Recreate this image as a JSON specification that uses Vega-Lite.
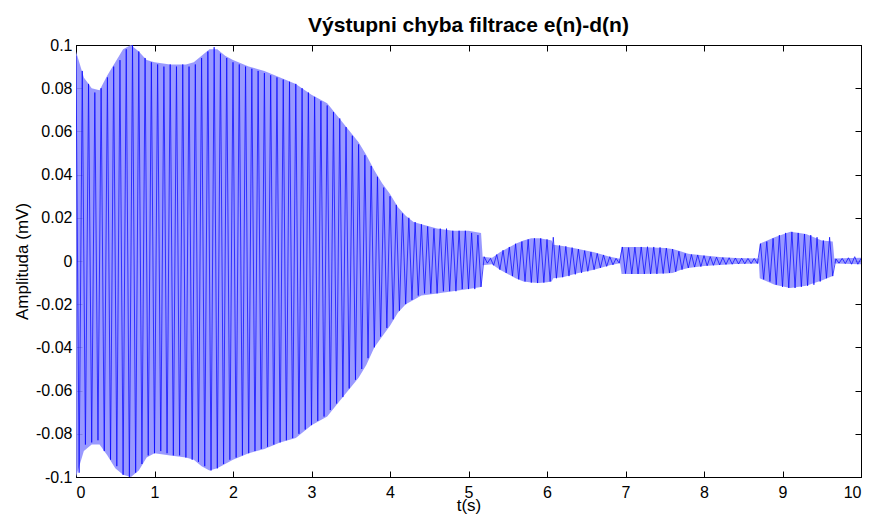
{
 "$schema": "https://vega.github.io/schema/vega-lite/v6.json",
 "width": 785, "height": 432,
 "autosize": {"type": "none"},
 "padding": {"left": 76, "top": 45, "right": 13, "bottom": 37},
 "background": "#ffffff",
 "title": {"text": "Výstupni chyba filtrace e(n)-d(n)", "fontSize": 21, "fontWeight": "bold", "font": "Liberation Sans", "color": "#000000", "offset": 1, "anchor": "middle"},
 "config": {
  "view": {"stroke": "#000000", "strokeWidth": 1},
  "axis": {"domainColor": "#000000", "tickColor": "#000000", "labelColor": "#000000", "titleColor": "#000000", "labelFont": "Liberation Sans", "titleFont": "Liberation Sans", "labelFontSize": 16, "titleFontSize": 17, "titleFontWeight": "normal", "grid": false, "tickSize": -6, "domainWidth": 1, "tickWidth": 1}
 },
 "datasets": {
  "sig": [
{"t":0.00,"v":0.095},{"t":0.04,"v":-0.098},{"t":0.08,"v":0.088},{"t":0.12,"v":-0.085},{"t":0.16,"v":0.082},{"t":0.20,"v":-0.084},{"t":0.24,"v":0.078},{"t":0.28,"v":-0.083},{"t":0.32,"v":0.080},{"t":0.36,"v":-0.088},
{"t":0.40,"v":0.085},{"t":0.44,"v":-0.092},{"t":0.48,"v":0.090},{"t":0.52,"v":-0.095},{"t":0.56,"v":0.093},{"t":0.60,"v":-0.099},{"t":0.64,"v":0.098},{"t":0.68,"v":-0.100},{"t":0.72,"v":0.100},{"t":0.76,"v":-0.098},
{"t":0.80,"v":0.097},{"t":0.84,"v":-0.094},{"t":0.88,"v":0.094},{"t":0.92,"v":-0.090},{"t":0.96,"v":0.092},{"t":1.00,"v":-0.089},{"t":1.04,"v":0.091},{"t":1.08,"v":-0.088},{"t":1.12,"v":0.090},{"t":1.16,"v":-0.089},
{"t":1.20,"v":0.091},{"t":1.24,"v":-0.090},{"t":1.28,"v":0.090},{"t":1.32,"v":-0.090},{"t":1.36,"v":0.091},{"t":1.40,"v":-0.091},{"t":1.44,"v":0.090},{"t":1.48,"v":-0.092},{"t":1.52,"v":0.091},{"t":1.56,"v":-0.093},
{"t":1.60,"v":0.094},{"t":1.64,"v":-0.095},{"t":1.68,"v":0.097},{"t":1.72,"v":-0.097},{"t":1.76,"v":0.099},{"t":1.80,"v":-0.096},{"t":1.84,"v":0.096},{"t":1.88,"v":-0.094},{"t":1.92,"v":0.094},{"t":1.96,"v":-0.092},
{"t":2.00,"v":0.092},{"t":2.04,"v":-0.091},{"t":2.08,"v":0.091},{"t":2.12,"v":-0.090},{"t":2.16,"v":0.090},{"t":2.20,"v":-0.089},{"t":2.24,"v":0.089},{"t":2.28,"v":-0.088},{"t":2.32,"v":0.088},{"t":2.36,"v":-0.087},
{"t":2.40,"v":0.087},{"t":2.44,"v":-0.086},{"t":2.48,"v":0.086},{"t":2.52,"v":-0.085},{"t":2.56,"v":0.085},{"t":2.60,"v":-0.084},{"t":2.64,"v":0.084},{"t":2.68,"v":-0.083},{"t":2.72,"v":0.083},{"t":2.76,"v":-0.082},
{"t":2.80,"v":0.082},{"t":2.84,"v":-0.080},{"t":2.88,"v":0.080},{"t":2.92,"v":-0.078},{"t":2.96,"v":0.078},{"t":3.00,"v":-0.076},{"t":3.04,"v":0.076},{"t":3.08,"v":-0.074},{"t":3.12,"v":0.074},{"t":3.16,"v":-0.072},
{"t":3.20,"v":0.072},{"t":3.24,"v":-0.069},{"t":3.28,"v":0.069},{"t":3.32,"v":-0.066},{"t":3.36,"v":0.066},{"t":3.40,"v":-0.063},{"t":3.44,"v":0.062},{"t":3.48,"v":-0.059},{"t":3.52,"v":0.058},{"t":3.56,"v":-0.055},
{"t":3.60,"v":0.054},{"t":3.64,"v":-0.050},{"t":3.68,"v":0.049},{"t":3.72,"v":-0.045},{"t":3.76,"v":0.044},{"t":3.80,"v":-0.040},{"t":3.84,"v":0.039},{"t":3.88,"v":-0.035},{"t":3.92,"v":0.034},{"t":3.96,"v":-0.031},
{"t":4.00,"v":0.030},{"t":4.04,"v":-0.027},{"t":4.08,"v":0.026},{"t":4.12,"v":-0.023},{"t":4.16,"v":0.022},{"t":4.20,"v":-0.020},{"t":4.24,"v":0.020},{"t":4.28,"v":-0.018},{"t":4.32,"v":0.018},{"t":4.36,"v":-0.016},
{"t":4.40,"v":0.017},{"t":4.44,"v":-0.015},{"t":4.48,"v":0.016},{"t":4.52,"v":-0.015},{"t":4.56,"v":0.015},{"t":4.60,"v":-0.015},{"t":4.64,"v":0.015},{"t":4.68,"v":-0.014},{"t":4.72,"v":0.015},{"t":4.76,"v":-0.014},
{"t":4.80,"v":0.014},{"t":4.84,"v":-0.014},{"t":4.88,"v":0.014},{"t":4.92,"v":-0.013},{"t":4.96,"v":0.014},{"t":5.00,"v":-0.013},{"t":5.04,"v":0.013},{"t":5.08,"v":-0.013},{"t":5.12,"v":0.012},{"t":5.16,"v":-0.012},
{"t":5.20,"v":0.002},{"t":5.24,"v":-0.001},{"t":5.28,"v":0.0012},{"t":5.32,"v":-0.002},{"t":5.36,"v":0.003},{"t":5.40,"v":-0.004},{"t":5.44,"v":0.005},{"t":5.48,"v":-0.0055},{"t":5.52,"v":0.0065},{"t":5.56,"v":-0.007},
{"t":5.60,"v":0.008},{"t":5.64,"v":-0.0085},{"t":5.68,"v":0.009},{"t":5.72,"v":-0.0095},{"t":5.76,"v":0.010},{"t":5.80,"v":-0.010},{"t":5.84,"v":0.0105},{"t":5.88,"v":-0.0102},{"t":5.92,"v":0.0105},{"t":5.96,"v":-0.010},
{"t":6.00,"v":0.010},{"t":6.04,"v":-0.0095},{"t":6.08,"v":0.011},{"t":6.12,"v":-0.008},{"t":6.16,"v":0.0072},{"t":6.20,"v":-0.0075},{"t":6.24,"v":0.0068},{"t":6.28,"v":-0.007},{"t":6.32,"v":0.0062},{"t":6.36,"v":-0.0062},
{"t":6.40,"v":0.0055},{"t":6.44,"v":-0.0055},{"t":6.48,"v":0.0048},{"t":6.52,"v":-0.0048},{"t":6.56,"v":0.0042},{"t":6.60,"v":-0.004},{"t":6.64,"v":0.0035},{"t":6.68,"v":-0.0032},{"t":6.72,"v":0.0028},{"t":6.76,"v":-0.0025},
{"t":6.80,"v":0.002},{"t":6.84,"v":-0.0018},{"t":6.88,"v":0.0012},{"t":6.92,"v":-0.001},{"t":6.96,"v":0.0065},{"t":7.00,"v":-0.0058},{"t":7.04,"v":0.0062},{"t":7.08,"v":-0.006},{"t":7.12,"v":0.0064},{"t":7.16,"v":-0.006},
{"t":7.20,"v":0.0065},{"t":7.24,"v":-0.006},{"t":7.28,"v":0.0066},{"t":7.32,"v":-0.006},{"t":7.36,"v":0.0065},{"t":7.40,"v":-0.006},{"t":7.44,"v":0.0063},{"t":7.48,"v":-0.0058},{"t":7.52,"v":0.006},{"t":7.56,"v":-0.0055},
{"t":7.60,"v":0.0055},{"t":7.64,"v":-0.005},{"t":7.68,"v":0.0045},{"t":7.72,"v":-0.004},{"t":7.76,"v":0.0035},{"t":7.80,"v":-0.0032},{"t":7.84,"v":0.003},{"t":7.88,"v":-0.0028},{"t":7.92,"v":0.0028},{"t":7.96,"v":-0.0026},
{"t":8.00,"v":0.0025},{"t":8.04,"v":-0.0022},{"t":8.08,"v":0.002},{"t":8.12,"v":-0.002},{"t":8.16,"v":0.0018},{"t":8.20,"v":-0.0018},{"t":8.24,"v":0.0016},{"t":8.28,"v":-0.0016},{"t":8.32,"v":0.0015},{"t":8.36,"v":-0.0015},
{"t":8.40,"v":0.0014},{"t":8.44,"v":-0.0014},{"t":8.48,"v":0.0013},{"t":8.52,"v":-0.0013},{"t":8.56,"v":0.0012},{"t":8.60,"v":-0.0012},{"t":8.64,"v":0.0012},{"t":8.68,"v":-0.0012},{"t":8.72,"v":0.008},{"t":8.76,"v":-0.0085},
{"t":8.80,"v":0.009},{"t":8.84,"v":-0.0095},{"t":8.88,"v":0.0105},{"t":8.92,"v":-0.011},{"t":8.96,"v":0.012},{"t":9.00,"v":-0.012},{"t":9.04,"v":0.013},{"t":9.08,"v":-0.0125},{"t":9.12,"v":0.0135},{"t":9.16,"v":-0.0125},
{"t":9.20,"v":0.013},{"t":9.24,"v":-0.012},{"t":9.28,"v":0.0125},{"t":9.32,"v":-0.0115},{"t":9.36,"v":0.012},{"t":9.40,"v":-0.011},{"t":9.44,"v":0.011},{"t":9.48,"v":-0.0095},{"t":9.52,"v":0.0095},{"t":9.56,"v":-0.008},
{"t":9.60,"v":0.011},{"t":9.64,"v":-0.007},{"t":9.68,"v":0.001},{"t":9.72,"v":-0.001},{"t":9.76,"v":0.0012},{"t":9.80,"v":-0.0012},{"t":9.84,"v":0.0015},{"t":9.88,"v":-0.0015},{"t":9.92,"v":0.002},{"t":9.96,"v":-0.0015},
{"t":10.00,"v":0.0012}
  ],
  "env": [
{"t":0.0,"hi":0.097,"lo":-0.1},{"t":0.1,"hi":0.085,"lo":-0.088},{"t":0.2,"hi":0.080,"lo":-0.085},{"t":0.3,"hi":0.079,"lo":-0.085},{"t":0.4,"hi":0.086,"lo":-0.090},
{"t":0.5,"hi":0.092,"lo":-0.096},{"t":0.6,"hi":0.098,"lo":-0.099},{"t":0.7,"hi":0.100,"lo":-0.100},{"t":0.8,"hi":0.097,"lo":-0.097},{"t":0.9,"hi":0.093,"lo":-0.091},
{"t":1.0,"hi":0.092,"lo":-0.089},{"t":1.2,"hi":0.091,"lo":-0.090},{"t":1.4,"hi":0.091,"lo":-0.091},{"t":1.5,"hi":0.092,"lo":-0.092},{"t":1.6,"hi":0.095,"lo":-0.095},
{"t":1.7,"hi":0.098,"lo":-0.097},{"t":1.8,"hi":0.098,"lo":-0.096},{"t":1.9,"hi":0.095,"lo":-0.094},{"t":2.0,"hi":0.093,"lo":-0.092},{"t":2.2,"hi":0.090,"lo":-0.089},
{"t":2.4,"hi":0.088,"lo":-0.087},{"t":2.6,"hi":0.085,"lo":-0.084},{"t":2.8,"hi":0.082,"lo":-0.082},{"t":3.0,"hi":0.077,"lo":-0.076},{"t":3.2,"hi":0.073,"lo":-0.072},
{"t":3.4,"hi":0.064,"lo":-0.063},{"t":3.6,"hi":0.055,"lo":-0.054},{"t":3.7,"hi":0.049,"lo":-0.048},{"t":3.8,"hi":0.042,"lo":-0.040},{"t":3.9,"hi":0.036,"lo":-0.035},
{"t":4.0,"hi":0.031,"lo":-0.030},{"t":4.1,"hi":0.025,"lo":-0.024},{"t":4.2,"hi":0.021,"lo":-0.020},{"t":4.3,"hi":0.018,"lo":-0.018},{"t":4.4,"hi":0.017,"lo":-0.016},
{"t":4.6,"hi":0.015,"lo":-0.015},{"t":4.8,"hi":0.014,"lo":-0.014},{"t":5.0,"hi":0.014,"lo":-0.013},{"t":5.16,"hi":0.013,"lo":-0.012},{"t":5.18,"hi":0.002,"lo":-0.002},
{"t":5.3,"hi":0.0015,"lo":-0.0015},{"t":5.4,"hi":0.004,"lo":-0.004},{"t":5.5,"hi":0.006,"lo":-0.006},{"t":5.6,"hi":0.008,"lo":-0.008},{"t":5.7,"hi":0.0095,"lo":-0.0095},
{"t":5.8,"hi":0.0105,"lo":-0.010},{"t":5.9,"hi":0.0105,"lo":-0.0102},{"t":6.0,"hi":0.010,"lo":-0.0098},{"t":6.06,"hi":0.0095,"lo":-0.0095},{"t":6.08,"hi":0.0075,"lo":-0.008},
{"t":6.2,"hi":0.007,"lo":-0.0075},{"t":6.4,"hi":0.0055,"lo":-0.0055},{"t":6.6,"hi":0.004,"lo":-0.004},{"t":6.8,"hi":0.002,"lo":-0.002},{"t":6.93,"hi":0.001,"lo":-0.001},
{"t":6.95,"hi":0.0065,"lo":-0.006},{"t":7.2,"hi":0.0065,"lo":-0.006},{"t":7.5,"hi":0.006,"lo":-0.0058},{"t":7.6,"hi":0.0055,"lo":-0.0055},{"t":7.7,"hi":0.0045,"lo":-0.0042},
{"t":7.8,"hi":0.0033,"lo":-0.0032},{"t":8.0,"hi":0.0025,"lo":-0.0023},{"t":8.2,"hi":0.0018,"lo":-0.0018},{"t":8.4,"hi":0.0014,"lo":-0.0014},{"t":8.7,"hi":0.0012,"lo":-0.0012},
{"t":8.71,"hi":0.008,"lo":-0.008},{"t":8.9,"hi":0.011,"lo":-0.011},{"t":9.1,"hi":0.0135,"lo":-0.0125},{"t":9.3,"hi":0.0125,"lo":-0.0115},{"t":9.5,"hi":0.0095,"lo":-0.009},
{"t":9.64,"hi":0.009,"lo":-0.007},{"t":9.66,"hi":0.0012,"lo":-0.0012},{"t":10.0,"hi":0.0015,"lo":-0.0015}
  ]
 },
 "layer": [
  {
   "data": {"name": "env"},
   "mark": {"type": "area", "color": "#8e8eff", "opacity": 0.9, "clip": true},
   "encoding": {
    "x": {"field": "t", "type": "quantitative", "scale": {"domain": [0, 10], "nice": false, "zero": false},
          "axis": {"values": [0,1,2,3,4,5,6,7,8,9,10], "title": "t(s)", "labelPadding": 13, "titlePadding": -3}},
    "y": {"field": "hi", "type": "quantitative", "scale": {"domain": [-0.1, 0.1], "nice": false},
          "axis": {"values": [-0.1,-0.08,-0.06,-0.04,-0.02,0,0.02,0.04,0.06,0.08,0.1], "title": "Amplituda (mV)", "labelPadding": 10, "titlePadding": 4,
                   "labelExpr": "replace(format(datum.value, '~g'), '\u2212', '-')"}},
    "y2": {"field": "lo"}
   }
  },
  {
   "data": {"name": "sig"},
   "mark": {"type": "line", "stroke": "#0000ff", "strokeWidth": 0.7, "clip": true},
   "encoding": {
    "x": {"field": "t", "type": "quantitative", "axis": {"orient": "top", "values": [0,1,2,3,4,5,6,7,8,9,10], "labels": false, "title": null}},
    "y": {"field": "v", "type": "quantitative", "axis": {"orient": "right", "values": [-0.1,-0.08,-0.06,-0.04,-0.02,0,0.02,0.04,0.06,0.08,0.1], "labels": false, "title": null}}
   }
  }
 ],
 "resolve": {"axis": {"x": "independent", "y": "independent"}}
}
